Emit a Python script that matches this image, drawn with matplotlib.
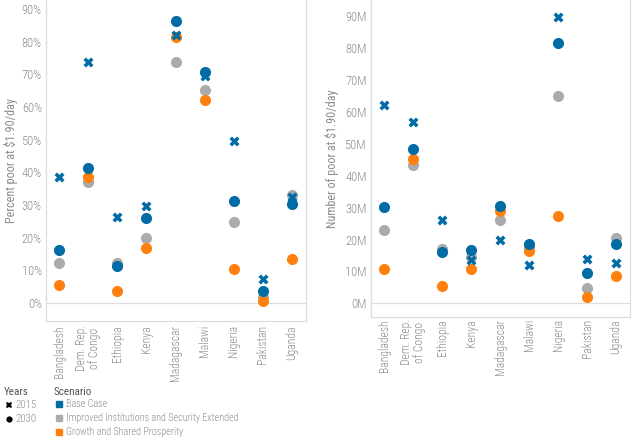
import matplotlib
matplotlib.use('Agg')
import matplotlib.pyplot as plt
from matplotlib.lines import Line2D
from matplotlib.patches import Rectangle
from matplotlib.ticker import FuncFormatter

plt.rcParams['font.family'] = ['Roboto Condensed', 'Liberation Sans', 'DejaVu Sans']
plt.rcParams['font.weight'] = 'light'

countries = ['Bangladesh', 'Dem. Rep.\nof Congo', 'Ethiopia', 'Kenya', 'Madagascar',
             'Malawi', 'Nigeria', 'Pakistan', 'Uganda']

# percent poor at $1.90/day
pct_2015 = [38.7, 73.8, 26.2, 29.6, 81.9, 69.3, 49.6, 7.3, 32.4]
pct_base = [16.3, 41.3, 11.2, 25.9, 86.4, 70.8, 31.2, 3.7, 30.3]
pct_iise = [12.2, 36.9, 12.2, 20.0, 73.6, 65.3, 24.9, 1.8, 33.1]
pct_gsp = [5.6, 38.5, 3.7, 16.7, 81.3, 62.0, 10.4, 0.5, 13.6]

# number of poor at $1.90/day (millions)
num_2015 = [62.3, 56.8, 26.2, 13.6, 19.7, 12.0, 89.8, 13.9, 12.6]
num_base = [30.3, 48.3, 16.0, 16.7, 30.5, 18.5, 81.6, 9.4, 18.6]
num_iise = [23.0, 43.3, 17.1, 14.5, 26.0, 17.5, 65.1, 4.8, 20.5]
num_gsp = [10.8, 45.1, 5.3, 10.8, 28.8, 16.3, 27.4, 1.9, 8.7]

BLUE = '#006BA4'
GRAY = '#ABABAB'
ORANGE = '#FF800E'
TXT = '#8c8c8c'
LINE = '#dedede'

fig = plt.figure(figsize=(6.4, 4.42), dpi=100)
W, H = 640.0, 442.0


def panel(rect, v2015, vbase, viise, vgsp, ylim, fmt, ylabel, labx, xpad):
    ax = fig.add_axes(rect)
    xs = list(range(len(countries)))
    ax.scatter(xs, viise, s=64, color=GRAY, zorder=3, linewidths=0)
    ax.scatter(xs, vgsp, s=64, color=ORANGE, zorder=4, linewidths=0)
    ax.scatter(xs, vbase, s=64, color=BLUE, zorder=5, linewidths=0)
    ax.scatter(xs, v2015, s=52, marker='X', color=BLUE, zorder=6, linewidths=0)
    ax.axhline(0, color=LINE, lw=0.9, zorder=1)
    ax.set_xlim(-0.45, 8.48)
    ax.set_ylim(*ylim)
    ax.set_yticks(range(0, 91, 10))
    ax.yaxis.set_major_formatter(FuncFormatter(fmt))
    ax.set_xticks(xs)
    ax.set_xticklabels(countries, rotation=90, ha='center', va='top', linespacing=1.0)
    ax.tick_params(length=0, labelcolor=TXT)
    ax.tick_params(axis='y', pad=3, labelsize=9)
    ax.tick_params(axis='x', pad=xpad, labelsize=8.4)
    ax.set_ylabel(ylabel, color=TXT, fontsize=8.7)
    ax.yaxis.set_label_coords(labx, 0.5)
    for s in ['left', 'right', 'bottom']:
        ax.spines[s].set_color(LINE)
        ax.spines[s].set_linewidth(0.9)
    ax.spines['top'].set_visible(False)
    return ax


panel([46 / W, 1 - 321 / H, 260 / W, 321 / H], pct_2015, pct_base, pct_iise, pct_gsp,
      (-5.5, 92.7), lambda v, p: '%d%%' % v,
      r'Percent poor at \$1.90/day', -0.108, 3)
panel([371 / W, 1 - 317 / H, 259 / W, 317 / H], num_2015, num_base, num_iise, num_gsp,
      (-4.3, 95.1), lambda v, p: '%dM' % v,
      r'Number of poor at \$1.90/day', -0.124, 1.5)

# legend
def fx(px):
    return px / W


def fy(py):
    return 1 - py / H


fig.text(fx(4), fy(392), 'Years', color='#555555', fontsize=8, va='center', fontweight='normal')
fig.text(fx(54), fy(392), 'Scenario', color='#555555', fontsize=8, va='center', fontweight='normal')
fig.add_artist(Line2D([fx(9)], [fy(405)], marker='X', ms=4.5, color='black', lw=0,
                      markeredgewidth=0, transform=fig.transFigure))
fig.add_artist(Line2D([fx(9)], [fy(419)], marker='o', ms=4.5, color='black', lw=0,
                      markeredgewidth=0, transform=fig.transFigure))
fig.text(fx(15), fy(405), '2015', color=TXT, fontsize=7.8, va='center')
fig.text(fx(15), fy(419), '2030', color=TXT, fontsize=7.8, va='center')

for i, (lab, col) in enumerate([('Base Case', BLUE),
                                ('Improved Institutions and Security Extended', GRAY),
                                ('Growth and Shared Prosperity', ORANGE)]):
    yc = 404 + 14 * i
    fig.add_artist(Rectangle((fx(56), fy(yc + 3)), 6 / W, 6 / H, color=col,
                             transform=fig.transFigure))
    fig.text(fx(66), fy(yc), lab, color=TXT, fontsize=7.3, va='center')

fig.savefig('out.png', dpi=100)
